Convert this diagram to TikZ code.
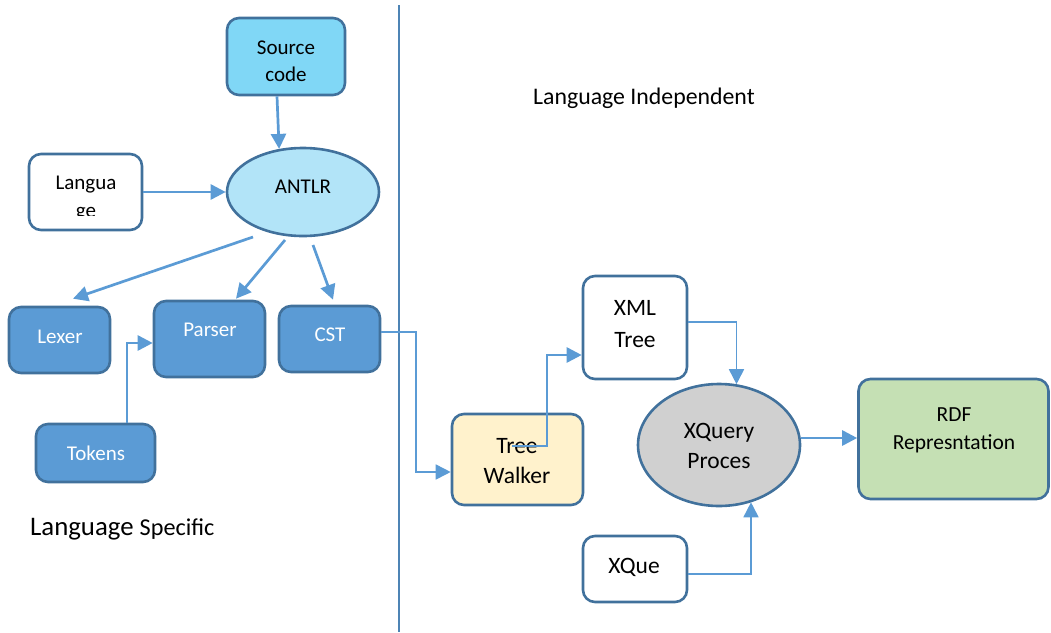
\documentclass[tikz,border=0pt]{standalone}
\usepackage{fontspec}
\setmainfont{Carlito}
\usetikzlibrary{arrows.meta,calc,shapes.geometric}
\definecolor{bord}{HTML}{41719C}
\definecolor{arrc}{HTML}{5B9BD5}
\definecolor{srcfill}{HTML}{80D7F6}
\definecolor{antfill}{HTML}{B2E4F8}
\definecolor{darkfill}{HTML}{5B9BD5}
\definecolor{walkfill}{HTML}{FFF2CC}
\definecolor{xqfill}{HTML}{D0D0D0}
\definecolor{rdffill}{HTML}{C5E0B4}
\tikzset{
  box/.style={draw=bord, line width=2.6pt, rounded corners=12pt, inner sep=0pt},
  oval/.style={draw=bord, line width=2.6pt, ellipse, inner sep=0pt},
  arr/.style={draw=arrc, line width=2.7pt, -{Triangle[length=15pt,width=15pt]}},
  thinarr/.style={draw=arrc, line width=1.7pt, -{Triangle[length=15pt,width=15pt]}},
  thinline/.style={draw=arrc, line width=1.3pt},
  lbl/.style={anchor=base, inner sep=0pt, font=\fontsize{21}{25}\selectfont},
  lblw/.style={lbl, text=white},
  lblr/.style={anchor=base, inner sep=0pt, font=\fontsize{23.5}{28}\selectfont},
}
\begin{document}
\begin{tikzpicture}[x=1pt,y=-1pt]
\useasboundingbox (0,0) rectangle (1051,632);
% divider
\draw[draw=arrc!85!black, line width=1.2pt] (399,5) -- (399,632);

% boxes
\node[box, fill=srcfill, minimum width=118pt, minimum height=77pt] (src) at (286,56.5) {};
\node[box, fill=white, minimum width=113pt, minimum height=76pt] (lang) at (85.5,192) {};
\node[oval, fill=antfill, minimum width=152pt, minimum height=88pt] (antlr) at (303,192) {};
\node[box, fill=darkfill, minimum width=101pt, minimum height=66pt] (lexer) at (59.5,340) {};
\node[box, fill=darkfill, minimum width=111pt, minimum height=76pt] (parser) at (209.5,339) {};
\node[box, fill=darkfill, minimum width=101pt, minimum height=66pt] (cst) at (329.5,339) {};
\node[box, fill=darkfill, minimum width=119pt, minimum height=58pt] (tokens) at (95.5,453) {};
\node[box, fill=walkfill, minimum width=131pt, minimum height=91pt] (walker) at (517.5,459.5) {};
\node[box, fill=white, minimum width=104pt, minimum height=103pt] (xml) at (635,327.5) {};
\node[oval, fill=xqfill, minimum width=162pt, minimum height=122pt] (xquery) at (719,445) {};
\node[box, fill=rdffill, minimum width=190pt, minimum height=120pt] (rdf) at (953.5,439) {};
\node[box, fill=white, minimum width=104pt, minimum height=66pt] (xque) at (635,569) {};

% labels
\node[lbl] (srct1) at (286,54) {Source};
\node[lbl] (srct2) at (286,81) {code};
\node[lbl] (antlrt) at (303,193) {ANTLR};
\node[lbl] (langt1) at (86,189) {Langua};
\begin{scope}
\clip (31,156) rectangle (140,215);
\node[lbl] (langt2) at (86,217) {ge};
\end{scope}
\node[lblw] (lexert) at (60,343) {Lexer};
\node[lblw] (parsert) at (210,336) {Parser};
\node[lblw] (cstt) at (330,341) {CST};
\node[lblw] (tokenst) at (96,460) {Tokens};
\node[lblr] (walkt1) at (517,453) {Tree};
\node[lblr] (walkt2) at (517,483) {Walker};
\node[lblr] (xmlt1) at (635,315) {XML};
\node[lblr] (xmlt2) at (635,347) {Tree};
\node[lblr] (xqt1) at (719,438) {XQuery};
\node[lblr] (xqt2) at (719,468) {Proces};
\node[anchor=base, inner sep=0pt, font=\fontsize{21.5}{25}\selectfont] (rdft1) at (954,421) {RDF};
\node[anchor=base, inner sep=0pt, font=\fontsize{21.5}{25}\selectfont] (rdft2) at (954,449) {Represntation};
\node[lblr] (xquet) at (634,573) {XQue};
\node[anchor=base west, inner sep=0pt, font=\fontsize{23.8}{28}\selectfont] (indep) at (533,104) {Language Independent};
\node[anchor=base west, inner sep=0pt] (spec) at (30,535) {\fontsize{26.8}{30}\selectfont Language {\fontsize{24.2}{28}\selectfont Specific}};

% connectors
\draw[arr] ($(src.south)+(-9,0)$) -- (antlr.119);
\draw[arr] (lang.east) -- (antlr.west);
\draw[arr] ($(antlr.center)+(-50,45)$) -- ($(lexer.north)+(13.5,-7)$);
\draw[arr] ($(antlr.center)+(-18,48)$) -- ($(parser.north)+(26.5,-1)$);
\draw[arr] ($(antlr.center)+(10,53)$) -- ($(cst.north)+(3.5,-5)$);
\draw[thinline] ($(lexer.south)+(-2.5,0)$) -- ($(lexer.south)+(-2.5,0)$ |- tokens.north);
\draw[arr] ($(tokens.north)+(31.5,0)$) |- ($(parser.west)+(0,4)$);
\draw[thinarr] ($(cst.east)+(0,-7)$) -- ++(35,0) |- ($(walker.west)+(0,12.5)$);
\draw[arr] ($(walker.center)+(-5.5,-13.5)$) -- ++(35,0) |- ($(xml.west)+(0,27.5)$);
\draw[thinarr] ($(xml.east)+(0,-5.5)$) -| ($(xquery.north)+(17.5,1.5)$);
\draw[thinarr] ($(xque.east)+(0,5)$) -| ($(xquery.south)+(32,-5)$);
\draw[arr] ($(xquery.east)+(0,-7)$) -- ($(rdf.west)+(0,-1)$);
\end{tikzpicture}
\end{document}
